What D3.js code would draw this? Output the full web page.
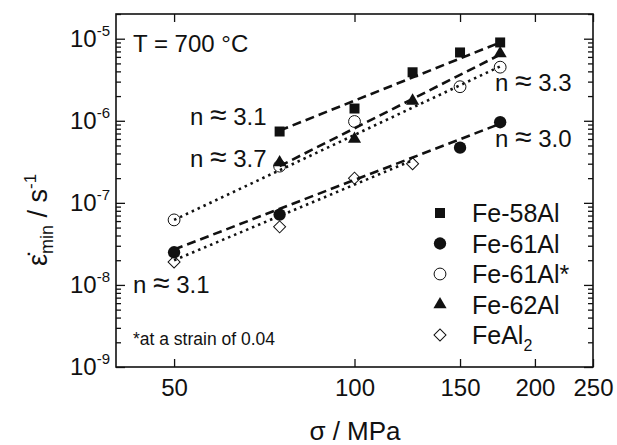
<!DOCTYPE html>
<html>
<head>
<meta charset="utf-8">
<script src="https://cdn.jsdelivr.net/npm/d3@7"></script>
<style>
  body { margin: 0; background: #fff; }
  svg { font-family: "Liberation Sans", Arial, sans-serif; }
</style>
</head>
<body>
<div id="chart"></div>
<script>
// Data (stress in MPa, minimum creep rate in 1/s)
const seriesNames = ["Fe-58Al", "Fe-61Al", "Fe-61Al*", "Fe-62Al", "FeAl2"]

const sigmaFe58Al = [75, 100, 125, 150, 175]
const rateFe58Al = [7.4e-7, 1.41e-6, 3.9e-6, 6.8e-6, 9.0e-6]

const sigmaFe61Al = [50, 75, 150, 175]
const rateFe61Al = [2.5e-8, 7.2e-8, 4.7e-7, 9.6e-7]

const sigmaFe61AlStar = [50, 75, 100, 150, 175]
const rateFe61AlStar = [6.2e-8, 2.8e-7, 9.8e-7, 2.6e-6, 4.5e-6]

const sigmaFe62Al = [75, 100, 125, 175]
const rateFe62Al = [3.1e-7, 6.0e-7, 1.75e-6, 6.6e-6]

const sigmaFeAl2 = [50, 75, 100, 125]
const rateFeAl2 = [1.9e-8, 5.1e-8, 2.0e-7, 3.0e-7]

// fitted power-law lines, [sigma, rate] end points
const fitFe58Al = [[75, 7.6e-7], [175, 9.0e-6]]
const fitFe62Al = [[75, 2.8e-7], [175, 6.4e-6]]
const fitFe61AlStar = [[50, 6.2e-8], [175, 4.6e-6]]
const fitFe61Al = [[50, 2.7e-8], [175, 9.2e-7]]
const fitFeAl2 = [[50, 2.0e-8], [125, 3.3e-7]]

const xTicks = [50, 100, 150, 200, 250]
const yTicks = [1e-9, 1e-8, 1e-7, 1e-6, 1e-5]
const yTickExp = ["-9", "-8", "-7", "-6", "-5"]

// Set up svg
const w = 617, h = 445
const mLeft = 116, mRight = 593, mTop = 14, mBottom = 367

const svg = d3.select("#chart").append("svg")
    .attr("width", w)
    .attr("height", h)

const x = d3.scaleLog().domain([40, 250]).range([mLeft, mRight])
const y = d3.scaleLog().domain([1e-9, 2e-5]).range([mBottom, mTop])

// minor y ticks 2..9 per decade
let yMinor = []
for (let e = -9; e < -4; e++) {
    for (let m = 2; m <= 9; m++) {
        let v = m * Math.pow(10, e)
        if (v <= 2e-5) yMinor.push(v)
    }
}

function styleAxis(g) {
    g.select(".domain").remove()
    g.selectAll("line").attr("stroke", "#111").attr("stroke-width", 1.3)
}

// bottom axis with labels
svg.append("g")
    .attr("transform", "translate(0," + mBottom + ")")
    .call(d3.axisBottom(x).tickValues(xTicks).tickFormat(d3.format("d")).tickSize(-8).tickPadding(12))
    .call(styleAxis)
    .selectAll("text")
    .attr("font-size", 24)
    .attr("fill", "#111")
    .attr("font-family", "Liberation Sans, Arial, sans-serif")

// top axis
svg.append("g")
    .attr("transform", "translate(0," + mTop + ")")
    .call(d3.axisTop(x).tickValues(xTicks).tickFormat("").tickSize(-8))
    .call(styleAxis)

// left and right axes, major + minor
svg.append("g")
    .attr("transform", "translate(" + mLeft + ",0)")
    .call(d3.axisLeft(y).tickValues(yTicks).tickFormat("").tickSize(-9))
    .call(styleAxis)
svg.append("g")
    .attr("transform", "translate(" + mLeft + ",0)")
    .call(d3.axisLeft(y).tickValues(yMinor).tickFormat("").tickSize(-5))
    .call(styleAxis)
svg.append("g")
    .attr("transform", "translate(" + mRight + ",0)")
    .call(d3.axisRight(y).tickValues(yTicks).tickFormat("").tickSize(-9))
    .call(styleAxis)
svg.append("g")
    .attr("transform", "translate(" + mRight + ",0)")
    .call(d3.axisRight(y).tickValues(yMinor).tickFormat("").tickSize(-5))
    .call(styleAxis)

// y tick labels 10^n
let ylab = svg.append("g").selectAll("text")
    .data(yTicks)
    .enter()
    .append("text")
    .attr("x", mLeft - 6)
    .attr("y", d => y(d) + 8)
    .attr("text-anchor", "end")
    .attr("font-size", 24)
    .attr("fill", "#111")
ylab.append("tspan").text("10")
ylab.append("tspan")
    .attr("font-size", 15)
    .attr("dy", -11)
    .text((d, i) => yTickExp[i])

// frame
svg.append("rect")
    .attr("x", mLeft).attr("y", mTop)
    .attr("width", mRight - mLeft).attr("height", mBottom - mTop)
    .attr("fill", "none")
    .attr("stroke", "#111")
    .attr("stroke-width", 1.6)

// fit lines
const dashed = "9,5"
const dotted = "2.5,4"
const fits = [
    {pts: fitFe58Al, dash: dashed},
    {pts: fitFe62Al, dash: dashed},
    {pts: fitFe61AlStar, dash: dotted},
    {pts: fitFe61Al, dash: dashed},
    {pts: fitFeAl2, dash: dotted}
]
const line = d3.line().x(d => x(d[0])).y(d => y(d[1]))
svg.append("g").selectAll("path")
    .data(fits)
    .enter()
    .append("path")
    .attr("d", d => line(d.pts))
    .attr("fill", "none")
    .attr("stroke", "#111")
    .attr("stroke-width", 2.6)
    .attr("stroke-dasharray", d => d.dash)

// markers
const markers = [
    {sym: d3.symbolSquare, size: 100, filled: true, rot: 0},
    {sym: d3.symbolCircle, size: 120, filled: true, rot: 0},
    {sym: d3.symbolCircle, size: 110, filled: false, rot: 0},
    {sym: d3.symbolTriangle, size: 75, filled: true, rot: 0},
    {sym: d3.symbolSquare, size: 72, filled: false, rot: 45}
]
const sigmas = [sigmaFe58Al, sigmaFe61Al, sigmaFe61AlStar, sigmaFe62Al, sigmaFeAl2]
const rates = [rateFe58Al, rateFe61Al, rateFe61AlStar, rateFe62Al, rateFeAl2]

function drawMarker(sel, m) {
    sel.append("path")
        .attr("d", d3.symbol().type(m.sym).size(m.size))
        .attr("transform", d => "translate(" + d[0] + "," + d[1] + ") rotate(" + m.rot + ")")
        .attr("fill", m.filled ? "#111" : "none")
        .attr("stroke", "#111")
        .attr("stroke-width", m.filled ? 0 : 1)
}

for (let i = 0; i < seriesNames.length; i++) {
    let pts = sigmas[i].map((s, j) => [x(s), y(rates[i][j])])
    let g = svg.append("g").selectAll("g").data(pts).enter().append("g")
    g.each(function(d) { drawMarker(d3.select(this), markers[i]) })
}

// legend
const legX = 440, legY = 213, legStep = 30.5
for (let i = 0; i < seriesNames.length; i++) {
    let cy = legY + i * legStep
    let g = svg.append("g").datum([legX, cy])
    drawMarker(g, markers[i])
    let t = svg.append("text")
        .attr("x", legX + 32)
        .attr("y", cy + 9)
        .attr("font-size", 25)
        .attr("fill", "#111")
    if (seriesNames[i] === "FeAl2") {
        t.append("tspan").text("FeAl")
        t.append("tspan").attr("font-size", 16).attr("dy", 7).text("2")
    } else {
        t.text(seriesNames[i])
    }
}

// annotations
function note(tx, ty, s, size) {
    svg.append("text")
        .attr("x", tx).attr("y", ty)
        .attr("font-size", size)
        .attr("fill", "#111")
        .text(s)
}
// "n ≈ value" labels with a wider approx sign
function nLabel(tx, ty, val) {
    let t = svg.append("text")
        .attr("x", tx).attr("y", ty)
        .attr("font-size", 24)
        .attr("fill", "#111")
    t.append("tspan").text("n ")
    t.append("tspan").attr("font-size", 30).text("\u2248")
    t.append("tspan").text(" " + val)
}
note(133, 52, "T = 700 °C", 24)
nLabel(190, 125, "3.1")
nLabel(190, 167, "3.7")
nLabel(495, 91, "3.3")
nLabel(495, 147, "3.0")
nLabel(133, 293, "3.1")
note(133, 345, "*at a strain of 0.04", 17.5)

// axis titles
svg.append("text")
    .attr("x", 355).attr("y", 440)
    .attr("text-anchor", "middle")
    .attr("font-size", 26)
    .attr("fill", "#111")
    .text("\u03c3 / MPa")

let yt = svg.append("text")
    .attr("transform", "translate(47,220) rotate(-90)")
    .attr("text-anchor", "middle")
    .attr("font-size", 27)
    .attr("fill", "#111")
yt.append("tspan").text("\u03b5\u0307")
yt.append("tspan").attr("font-size", 18).attr("dy", 6).text("min")
yt.append("tspan").attr("dy", -6).text(" / s")
yt.append("tspan").attr("font-size", 17).attr("dy", -11).text("-1")
</script>
</body>
</html>
